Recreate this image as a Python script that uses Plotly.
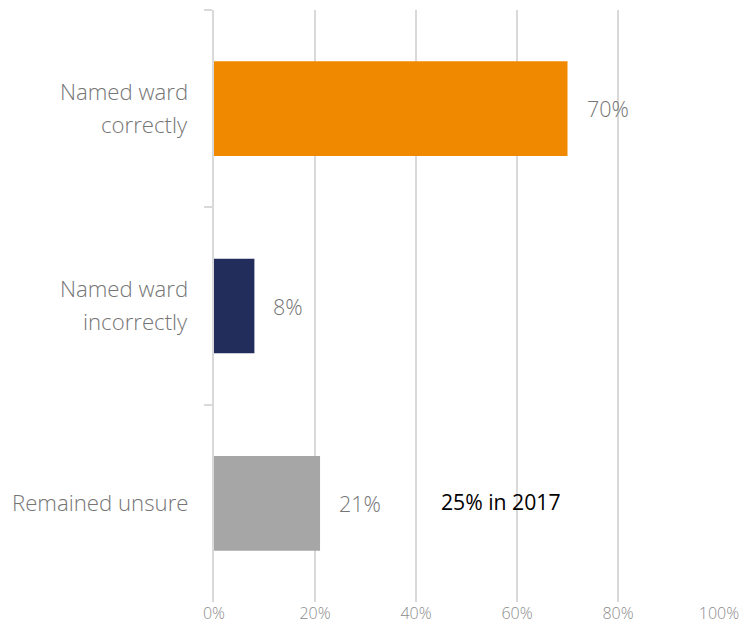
import plotly.graph_objects as go

categories = ["Named ward<br>correctly", "Named ward<br>incorrectly", "Remained unsure"]
values = [70, 8, 21]
labels = ["70%", "8%", "21%"]
colors = ["#F08800", "#222D5B", "#A6A6A6"]
tick_vals = [0, 20, 40, 60, 80, 100]
tick_text = ["0%", "20%", "40%", "60%", "80%", "100%"]
note_text = "25% in 2017"

FONT = "Open Sans"
grey = "#757575"

fig = go.Figure()
fig.add_trace(go.Bar(
    y=categories, x=values, orientation="h",
    marker=dict(color=colors, line=dict(width=0)),
    hoverinfo="skip",
))

# value labels
for c, v, t in zip(categories, values, labels):
    fig.add_annotation(x=v, y=c, text=t, showarrow=False, xanchor="left",
                       xshift=17, font=dict(family=FONT, size=21.5, color=grey, weight=300))

# category labels with wider line spacing
for c in categories:
    lines = c.split("<br>")
    n = len(lines)
    for i, ln in enumerate(lines):
        shift = (i - (n - 1) / 2) * 33
        fig.add_annotation(xref="paper", x=0, y=c, text=ln, showarrow=False,
                           xanchor="right", xshift=-24, yshift=-shift + 1,
                           font=dict(family=FONT, size=22.2, color=grey, weight=300))

fig.add_annotation(x=44.6, y=categories[2], text=note_text, showarrow=False,
                   xanchor="left", yshift=2,
                   font=dict(family=FONT, size=21.2, color="#000000"))

fig.update_layout(
    width=740, height=641,
    margin=dict(l=214, r=21, t=10, b=39, autoexpand=False),
    plot_bgcolor="white", paper_bgcolor="white",
    bargap=0.52, showlegend=False,
    font=dict(family=FONT, color=grey),
)
fig.update_xaxes(range=[0, 100], tickvals=tick_vals, ticktext=tick_text,
                 showgrid=True, gridcolor="#D9D9D9", gridwidth=2, zeroline=False,
                 showline=False, ticks="", automargin=False,
                 tickfont=dict(family=FONT, size=16, color="#8C8C8C", weight=300))
fig.update_yaxes(autorange="reversed", showline=True, linecolor="#D9D9D9", linewidth=2,
                 ticks="outside", tickson="boundaries", ticklen=8, tickcolor="#D9D9D9",
                 tickwidth=2, showgrid=False, showticklabels=False, automargin=False)

fig.write_html("out.html")
